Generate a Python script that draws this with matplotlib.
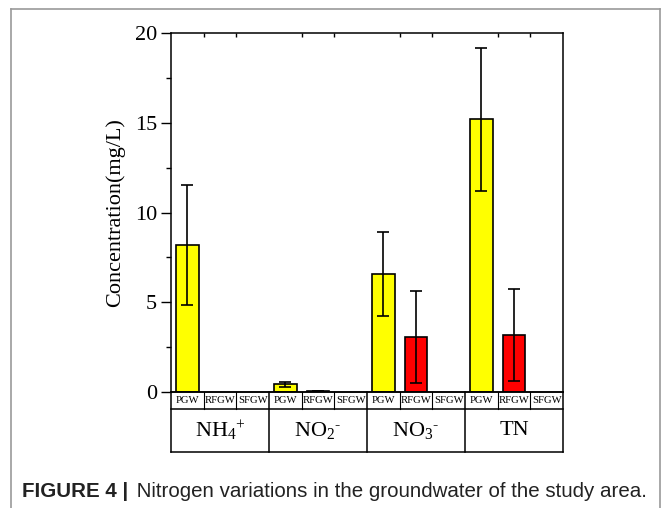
import matplotlib
matplotlib.use('Agg')
import matplotlib.pyplot as plt
import matplotlib.transforms as mtransforms
from matplotlib.lines import Line2D
import numpy as np

# ---- data ----
groups = [r'$\mathrm{NH_4{}^{+}}$', r'$\mathrm{NO_2{}^{\text{-}}}$', r'$\mathrm{NO_3{}^{\text{-}}}$', 'TN']
sites = ['PGW', 'RFGW', 'SFGW']
pgw = [8.2, 0.44, 6.57, 15.18]
pgw_err = [3.33, 0.14, 2.33, 3.97]
rfgw = [0.0, 0.08, 3.09, 3.17]
rfgw_err = [0.0, 0.02, 2.56, 2.56]
sfgw = [0.0, 0.0, 0.0, 0.0]
sfgw_err = [0.0, 0.0, 0.0, 0.0]
yticks = [0, 5, 10, 15, 20]
ylabel = 'Concentration(mg/L)'
caption_bold = 'FIGURE 4 |'
caption_rest = ' Nitrogen variations in the groundwater of the study area.'

series = [(pgw, pgw_err, '#FFFF00'), (rfgw, rfgw_err, '#FF0000'), (sfgw, sfgw_err, '#0000FF')]

plt.rcParams['font.family'] = ['Liberation Serif', 'DejaVu Serif']
plt.rcParams['mathtext.fontset'] = 'custom'
plt.rcParams['mathtext.rm'] = 'Liberation Serif'
plt.rcParams['mathtext.it'] = 'Liberation Serif:italic'

W, H = 662, 508
fig = plt.figure(figsize=(W / 100, H / 100), dpi=100)
fig.patch.set_facecolor('white')

left, right, top, bottom = 171, 563, 32.7, 392.3
ax = fig.add_axes([left / W, 1 - bottom / H, (right - left) / W, (bottom - top) / H])

n_sites = len(sites)
for s, (vals, errs, col) in enumerate(series):
    x = np.arange(len(groups)) * n_sites + s + 0.5
    v = np.array(vals)
    e = np.array(errs)
    m = v > 0
    ax.bar(x[m], v[m], width=0.7, color=col, edgecolor='black', linewidth=1.2, zorder=2)
    me = e > 0
    if me.any():
        ax.errorbar(x[me], v[me], yerr=e[me], fmt='none', ecolor='black',
                    elinewidth=1.2, capsize=4.5, capthick=1.2, zorder=3)

ax.set_xlim(0, len(groups) * n_sites)
ax.set_ylim(0, 20)
ax.set_yticks(yticks)
ax.set_yticks(np.arange(2.5, 20, 5), minor=True)
ax.tick_params(axis='y', which='major', direction='out', length=7, width=1,
               labelsize=16, pad=3, left=True, right=False)
ax.tick_params(axis='y', which='minor', direction='out', length=3.5, width=1,
               left=True, right=False)
top_ticks = [g * n_sites + k for g in range(len(groups)) for k in range(1, n_sites)]
ax.set_xticks(top_ticks)
ax.set_xticklabels([])
ax.tick_params(axis='x', which='major', direction='in', length=3, width=1,
               top=True, bottom=False, labeltop=False, labelbottom=False)
for sp in ax.spines.values():
    sp.set_linewidth(1.1)
ax.set_ylabel(ylabel, fontsize=16, labelpad=7)

ax.axhline(0, color='black', lw=1.1, zorder=4, clip_on=False)

# ---- category table below the axis ----
trans = mtransforms.blended_transform_factory(ax.transData, ax.transAxes)
h = bottom - top
r1 = -(409.3 - bottom) / h
r2 = -(451.7 - bottom) / h
N = len(groups) * n_sites
lw = 1.1
ax.add_line(Line2D([0, N], [r1, r1], transform=trans, color='black', lw=lw, clip_on=False))
ax.add_line(Line2D([0, N], [r2, r2], transform=trans, color='black', lw=lw, clip_on=False))
for k in range(N + 1):
    if k % n_sites == 0:
        ax.add_line(Line2D([k, k], [0, r2], transform=trans, color='black', lw=lw, clip_on=False))
    else:
        ax.add_line(Line2D([k, k], [0, r1], transform=trans, color='black', lw=0.8, clip_on=False))
for g, gname in enumerate(groups):
    for s, sname in enumerate(sites):
        ax.text(g * n_sites + s + 0.5, r1 / 2, sname, transform=trans, ha='center', va='center',
                fontsize=7.7)
    ax.text(g * n_sites + n_sites / 2, (r1 + r2) / 2, gname, transform=trans,
            ha='center', va='center', fontsize=16)

# ---- page frame ----
gray = '#9a9a9a'
fig.add_artist(Line2D([11 / W, 11 / W], [0, 1 - 9 / H], color=gray, lw=1.2))
fig.add_artist(Line2D([11 / W, 660 / W], [1 - 9 / H, 1 - 9 / H], color=gray, lw=1.2))
fig.add_artist(Line2D([660 / W, 660 / W], [0, 1 - 9 / H], color=gray, lw=1.2))

# ---- caption ----
cap_family = ['Liberation Sans', 'DejaVu Sans']
fs = 14.8
t1 = fig.text(22 / W, 1 - 497 / H, caption_bold, fontsize=fs, fontweight='bold',
              family=cap_family, color='#222222', va='baseline', ha='left')
fig.canvas.draw()
r = fig.canvas.get_renderer()
bb = t1.get_window_extent(r)
t2 = fig.text(bb.x1 / W + 0.004, 1 - 497 / H, caption_rest, fontsize=fs,
              family=cap_family, color='#222222', va='baseline', ha='left')

fig.savefig('out.png', dpi=100, facecolor='white')
